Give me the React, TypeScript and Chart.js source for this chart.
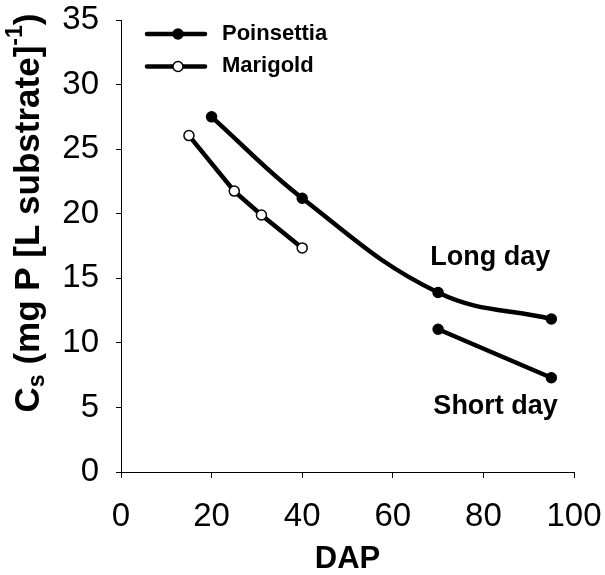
import React, { useEffect, useRef } from "react";
import { Chart, registerables } from "chart.js";

Chart.register(...registerables);

// Days after planting (DAP) and substrate P concentration (Cs)
const poinsettiaLongDAP = [20, 40, 70, 95];
const poinsettiaLongCs = [27.5, 21.2, 13.9, 11.85];
const poinsettiaShortDAP = [70, 95];
const poinsettiaShortCs = [11.05, 7.3];
const marigoldDAP = [15, 25, 31, 40];
const marigoldCs = [26.05, 21.75, 19.9, 17.35];

const seriesNames = ["Poinsettia", "Marigold"];
const photoperiodLabels = ["Long day", "Short day"];
const xTitle = "DAP";

const xMin = 0;
const xMax = 100;
const xStep = 20;
const yMin = 0;
const yMax = 35;
const yStep = 5;

const FONT = '"Liberation Sans", Arial, Helvetica, sans-serif';

const toPoints = (xs: number[], ys: number[]) => xs.map((x, i) => ({ x, y: ys[i] }));

const overlayPlugin = {
  id: "overlay",
  afterDraw(chart: any) {
    const { ctx, scales } = chart;
    const xs = scales.x;
    const ys = scales.y;
    ctx.save();

    // Legend: line with marker, then bold series name
    const legendRows = [
      { y: 34, fill: "#000000" },
      { y: 66.5, fill: "#ffffff" },
    ];
    legendRows.forEach((row, i) => {
      ctx.strokeStyle = "#000";
      ctx.lineWidth = 4.5;
      ctx.lineCap = "round";
      ctx.beginPath();
      ctx.moveTo(147, row.y);
      ctx.lineTo(205, row.y);
      ctx.stroke();
      ctx.beginPath();
      ctx.arc(178, row.y, 5, 0, Math.PI * 2);
      ctx.fillStyle = row.fill;
      ctx.fill();
      ctx.lineWidth = 1.5;
      ctx.stroke();
      ctx.fillStyle = "#000";
      ctx.font = `bold 22px ${FONT}`;
      ctx.textAlign = "left";
      ctx.textBaseline = "middle";
      ctx.fillText(seriesNames[i], 222, row.y - 0.5);
    });

    // Photoperiod labels next to the poinsettia curves
    ctx.font = `bold 27px ${FONT}`;
    ctx.textAlign = "center";
    ctx.textBaseline = "middle";
    ctx.fillText(photoperiodLabels[0], xs.getPixelForValue(81.5), ys.getPixelForValue(16.6));
    ctx.fillText(photoperiodLabels[1], xs.getPixelForValue(82.7), ys.getPixelForValue(5.1));

    // Y axis title with subscript and superscript
    const main = `bold 35px ${FONT}`;
    const small = `bold 23px ${FONT}`;
    const parts = [
      { t: "C", f: main, dy: 0 },
      { t: "s", f: small, dy: 9 },
      { t: " (mg P [L substrate]", f: main, dy: 0 },
      { t: "-1", f: small, dy: -13 },
      { t: ")", f: main, dy: 0 },
    ];
    let total = 0;
    parts.forEach((p) => {
      ctx.font = p.f;
      total += ctx.measureText(p.t).width;
    });
    ctx.translate(29, 213);
    ctx.rotate(-Math.PI / 2);
    ctx.textAlign = "left";
    ctx.textBaseline = "middle";
    let cx = -total / 2;
    parts.forEach((p) => {
      ctx.font = p.f;
      ctx.fillText(p.t, cx, p.dy);
      cx += ctx.measureText(p.t).width;
    });
    ctx.restore();
  },
};

export default function App() {
  const canvasRef = useRef<HTMLCanvasElement | null>(null);

  useEffect(() => {
    document.body.style.margin = "0";
    const canvas = canvasRef.current;
    if (!canvas) return;

    const lineStyle = {
      borderColor: "#000",
      borderWidth: 4.5,
      pointRadius: 5,
      pointHoverRadius: 5,
      pointBorderColor: "#000",
      pointBorderWidth: 1.5,
    };

    const chart = new Chart(canvas, {
      type: "line",
      data: {
        datasets: [
          {
            ...lineStyle,
            label: seriesNames[0] + " " + photoperiodLabels[0],
            data: toPoints(poinsettiaLongDAP, poinsettiaLongCs),
            pointBackgroundColor: "#000",
            tension: 0.4,
          },
          {
            ...lineStyle,
            label: seriesNames[0] + " " + photoperiodLabels[1],
            data: toPoints(poinsettiaShortDAP, poinsettiaShortCs),
            pointBackgroundColor: "#000",
            tension: 0,
          },
          {
            ...lineStyle,
            label: seriesNames[1],
            data: toPoints(marigoldDAP, marigoldCs),
            pointBackgroundColor: "#fff",
            tension: 0,
          },
        ],
      },
      options: {
        animation: false,
        responsive: true,
        maintainAspectRatio: false,
        layout: { padding: { top: 20, right: 31, left: 0, bottom: 0 } },
        plugins: {
          legend: { display: false },
          tooltip: { enabled: false },
        },
        scales: {
          x: {
            type: "linear",
            min: xMin,
            max: xMax,
            afterFit: (s: any) => {
              s.height = 103;
              s.paddingLeft = 0;
              s.paddingRight = 0;
            },
            ticks: {
              stepSize: xStep,
              color: "#000",
              padding: 22,
              font: { family: FONT, size: 33, lineHeight: 1 },
            },
            grid: {
              display: true,
              drawOnChartArea: false,
              drawTicks: true,
              tickLength: 6,
              color: "#000",
              lineWidth: 1,
            },
            border: { display: true, color: "#000", width: 1 },
            title: {
              display: true,
              text: xTitle,
              color: "#000",
              font: { family: FONT, size: 31, weight: "bold", lineHeight: 1 },
              padding: { top: 0, bottom: 0 },
            },
          },
          y: {
            type: "linear",
            min: yMin,
            max: yMax,
            afterFit: (s: any) => {
              s.width = 121;
              s.paddingTop = 0;
              s.paddingBottom = 0;
            },
            ticks: {
              stepSize: yStep,
              color: "#000",
              padding: 17,
              font: { family: FONT, size: 33, lineHeight: 1 },
            },
            grid: {
              display: true,
              drawOnChartArea: false,
              drawTicks: true,
              tickLength: 5,
              color: "#000",
              lineWidth: 1,
            },
            border: { display: true, color: "#000", width: 1 },
            title: { display: false },
          },
        },
      },
      plugins: [overlayPlugin],
    } as any);

    return () => chart.destroy();
  }, []);

  return (
    <div style={{ width: 605, height: 575, position: "relative", background: "#fff" }}>
      <canvas ref={canvasRef} />
    </div>
  );
}
